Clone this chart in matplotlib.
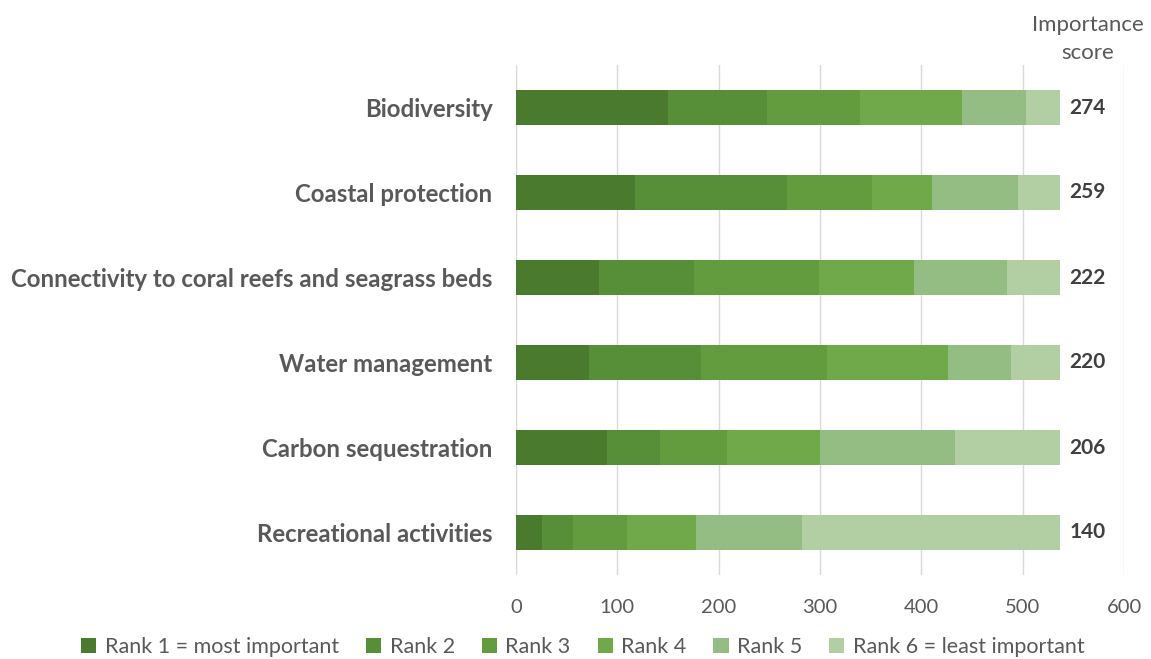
import numpy as np
import matplotlib
matplotlib.use("Agg")
from matplotlib import pyplot as plt

plt.rcParams['font.family'] = ['Lato', 'DejaVu Sans']

categories = ["Biodiversity", "Coastal protection",
              "Connectivity to coral reefs and seagrass beds",
              "Water management", "Carbon sequestration",
              "Recreational activities"]
rank_labels = ["Rank 1 = most important", "Rank 2", "Rank 3", "Rank 4",
               "Rank 5", "Rank 6 = least important"]

# counts per rank (rows = categories, columns = rank 1..6)
rank1 = [150, 117, 82, 72, 90, 26]
rank2 = [98, 150, 94, 111, 52, 30]
rank3 = [91, 84, 123, 124, 66, 54]
rank4 = [101, 60, 94, 119, 92, 68]
rank5 = [63, 84, 92, 62, 133, 104]
rank6 = [34, 42, 52, 49, 104, 255]
scores = [274, 259, 222, 220, 206, 140]

colors = ["#4a7a2e", "#568f37", "#629c3f", "#70a949", "#93bd83", "#b1cfa3"]
txt = "#595959"

data = np.array([rank1, rank2, rank3, rank4, rank5, rank6])

fig = plt.figure(figsize=(11.51, 6.59), dpi=100)
ax = fig.add_axes([516/1151, 84/659, 608/1151, 510/659])

y = np.arange(len(categories))
left = np.zeros(len(categories))
for i in range(6):
    ax.barh(y, data[i], left=left, height=0.42, color=colors[i],
            label=rank_labels[i], zorder=3)
    left += data[i]

for yi, tot, s in zip(y, left, scores):
    ax.text(tot + 9, yi, str(s), va="center", ha="left", fontsize=15,
            fontweight="bold", color="#404040")

ax.set_xlim(0, 600)
ax.set_ylim(5.5, -0.5)
ax.set_xticks(np.arange(0, 601, 100))
ax.set_yticks(y)
ax.set_yticklabels(categories, fontsize=17.3, fontweight="bold", color=txt)
ax.tick_params(axis="x", labelsize=14.5, colors=txt, length=0, pad=17)
ax.tick_params(axis="y", length=0, pad=17)
ax.grid(axis="x", color="#d9d9d9", linewidth=1, zorder=0)
for sp in ax.spines.values():
    sp.set_visible(False)

fig.text(1088/1151, 1 - 39/659, "Importance\nscore", ha="center", va="center",
         fontsize=16, color=txt, linespacing=1.45)

fig.legend(loc="lower center", bbox_to_anchor=(583/1151, -0.026), ncol=6,
           frameon=False, fontsize=15.5, handlelength=0.7, handleheight=0.7,
           columnspacing=1.25, handletextpad=0.4, labelcolor=txt)

fig.savefig("out.png", dpi=100)
